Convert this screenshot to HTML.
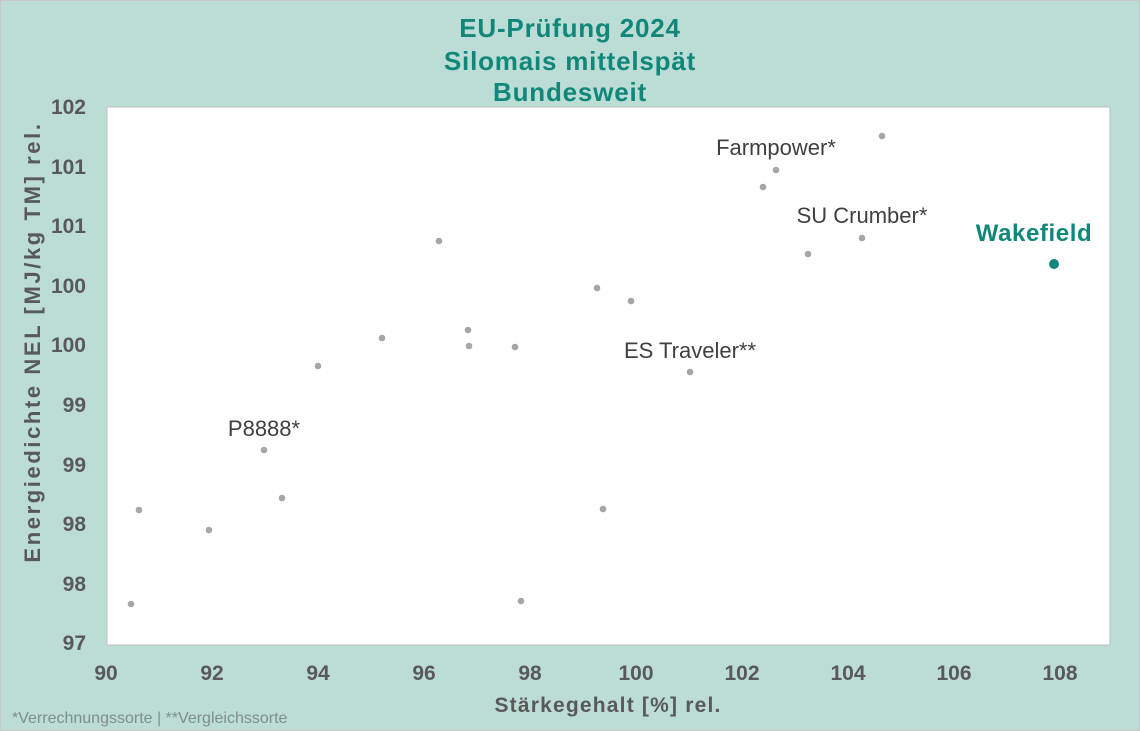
<!DOCTYPE html>
<html><head><meta charset="utf-8"><style>
body{margin:0;background:#bcdcd6;}
svg{display:block;font-family:"Liberation Sans",sans-serif;}
</style></head><body>
<svg width="1140" height="731" viewBox="0 0 1140 731">
<rect x="0.5" y="0.5" width="1139" height="730" fill="#bcdcd6" stroke="#c8c8c8"/>
<g fill="#11877a" font-weight="bold" font-size="26" letter-spacing="0.8" text-anchor="middle">
<text x="570" y="37">EU-Prüfung 2024</text>
<text x="570" y="70">Silomais mittelspät</text>
<text x="570" y="101">Bundesweit</text>
</g>
<rect x="107" y="107" width="1003" height="538" fill="#fff" stroke="#bfbfbf"/>
<g fill="#595959" font-weight="bold" font-size="21" text-anchor="end">
<text x="86" y="114">102</text><text x="86" y="174">101</text><text x="86" y="233">101</text>
<text x="86" y="293">100</text><text x="86" y="352">100</text><text x="86" y="412">99</text>
<text x="86" y="472">99</text><text x="86" y="531">98</text><text x="86" y="591">98</text>
<text x="86" y="650">97</text>
</g>
<g fill="#595959" font-weight="bold" font-size="21" text-anchor="middle">
<text x="106" y="680">90</text><text x="212" y="680">92</text><text x="318" y="680">94</text>
<text x="424" y="680">96</text><text x="530" y="680">98</text><text x="636" y="680">100</text>
<text x="742" y="680">102</text><text x="848" y="680">104</text><text x="954" y="680">106</text>
<text x="1060" y="680">108</text>
<text x="608" y="712" font-size="21" letter-spacing="1.2">Stärkegehalt [%] rel.</text>
<text transform="translate(40,342) rotate(-90)" font-size="22" letter-spacing="2.6">Energiedichte NEL [MJ/kg TM] rel.</text>
</g>
<g fill="#a6a6a6">
<circle cx="131" cy="604" r="3.3"/><circle cx="139" cy="510" r="3.3"/><circle cx="209" cy="530" r="3.3"/>
<circle cx="264" cy="450" r="3.3"/><circle cx="282" cy="498" r="3.3"/><circle cx="318" cy="366" r="3.3"/>
<circle cx="382" cy="338" r="3.3"/><circle cx="439" cy="241" r="3.3"/><circle cx="468" cy="330" r="3.3"/>
<circle cx="469" cy="346" r="3.3"/><circle cx="515" cy="347" r="3.3"/><circle cx="521" cy="601" r="3.3"/>
<circle cx="597" cy="288" r="3.3"/><circle cx="603" cy="509" r="3.3"/><circle cx="631" cy="301" r="3.3"/>
<circle cx="690" cy="372" r="3.3"/><circle cx="763" cy="187" r="3.3"/><circle cx="776" cy="170" r="3.3"/>
<circle cx="808" cy="254" r="3.3"/><circle cx="862" cy="238" r="3.3"/><circle cx="882" cy="136" r="3.3"/>
</g>
<circle cx="1054" cy="264" r="5" fill="#11877a"/>
<g fill="#404040" font-size="22" text-anchor="middle">
<text x="776" y="155">Farmpower*</text>
<text x="862" y="223">SU Crumber*</text>
<text x="690" y="358">ES Traveler**</text>
<text x="264" y="436">P8888*</text>
</g>
<text x="1034" y="241" fill="#11877a" font-weight="bold" font-size="24" letter-spacing="0.6" text-anchor="middle">Wakefield</text>
<text x="12" y="723" fill="#7f8f8c" font-size="16">*Verrechnungssorte | **Vergleichssorte</text>
</svg>
</body></html>
